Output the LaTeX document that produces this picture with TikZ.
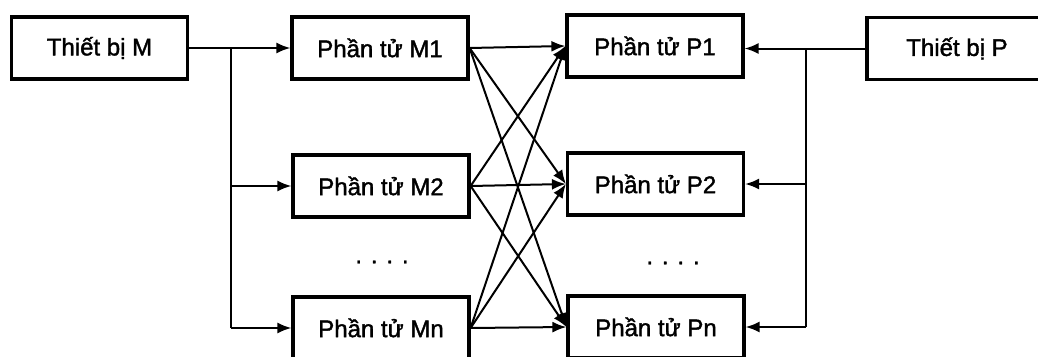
\documentclass[tikz,border=0pt]{standalone}
\usepackage{fontspec}
\setmainfont[FakeBold=1.5]{Liberation Sans}
\usetikzlibrary{arrows.meta}
\begin{document}
\begin{tikzpicture}[x=1pt,y=-1pt,
  box/.style={draw=black,line width=3.2pt,minimum width=176pt,minimum height=62pt,inner sep=0pt,
    font=\fontsize{24}{28}\selectfont},
  dotstext/.style={font=\fontsize{24}{28}\selectfont,inner sep=0pt},
  conn/.style={line width=2pt,-{Latex[length=14pt,width=11pt]}},
  wire/.style={line width=2pt}]
\useasboundingbox (0,0) rectangle (1038,356);
\fill[white] (0,0) rectangle (1038,356);
\node[box] (TM) at (99.5,48) {Thiết bị M};
\node[box] (M1) at (380,48) {Phần tử M1};
\node[box] (M2) at (381,186) {Phần tử M2};
\node[box] (Mn) at (381,328) {Phần tử Mn};
\node[box] (P1) at (655,46) {Phần tử P1};
\node[box] (P2) at (655.5,184) {Phần tử P2};
\node[box] (Pn) at (656,327) {Phần tử Pn};
\node[box,minimum width=180pt] (TP) at (957,48.5) {Thiết bị P};
\node[dotstext] (d1) at (382,262) {. . . .};
\node[dotstext] (d2) at (673,263) {. . . .};
% left distribution
\coordinate (jl) at (231,48);
\draw[conn] (TM.east) -- (M1.west);
\draw[wire] (jl) -- (jl |- Mn.west);
\draw[conn] (jl |- M2.west) -- (M2.west);
\draw[conn] (jl |- Mn.west) -- (Mn.west);
% right distribution
\coordinate (jr) at (806,48);
\draw[conn] (TP.west) -- (P1.east |- TP.west);
\draw[wire] (jr) -- (jr |- Pn.east);
\draw[conn] (jr |- P2.east) -- (P2.east);
\draw[conn] (jr |- Pn.east) -- (Pn.east);
% cross connections
\foreach \m in {M1,M2,Mn}{
  \foreach \p in {P1,P2,Pn}{
    \draw[conn] (\m.east) -- (\p.west);
  }
}
\end{tikzpicture}
\end{document}
